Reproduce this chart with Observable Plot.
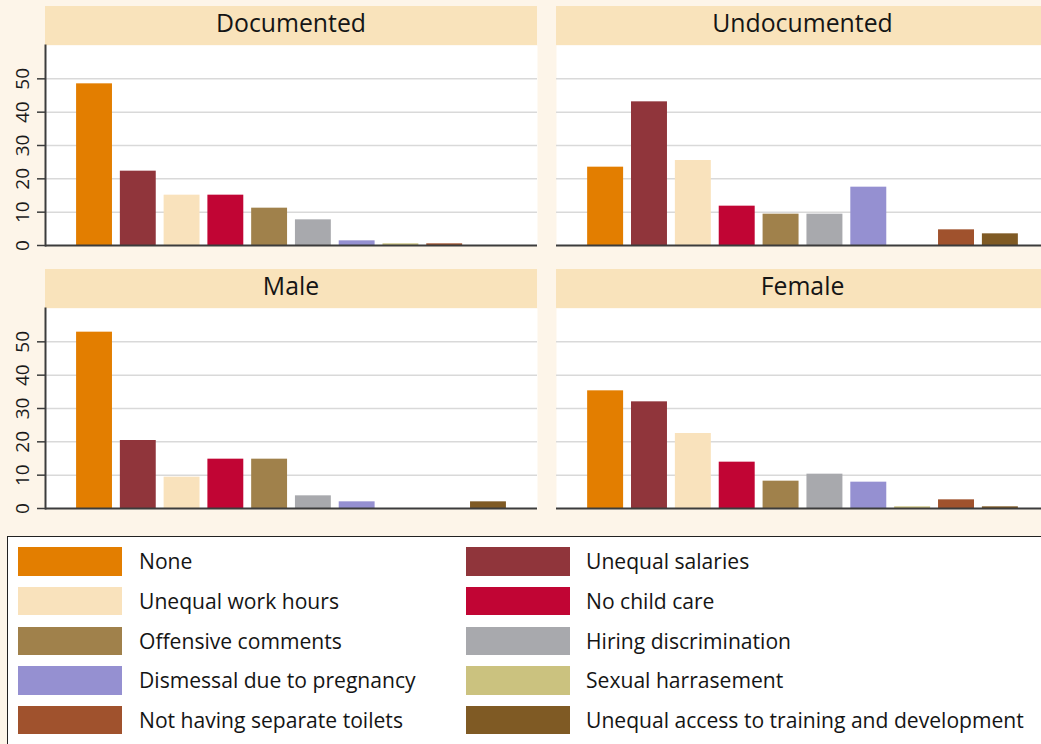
<!DOCTYPE html>
<html><head><meta charset="utf-8">
<script src="https://cdn.jsdelivr.net/npm/d3@7"></script>
<script src="https://cdn.jsdelivr.net/npm/@observablehq/plot@0.6"></script>
<style>
html,body{margin:0;padding:0;background:#FDF5E9;width:1041px;height:744px;overflow:hidden;font-family:"Open Sans",sans-serif;}
#root{position:relative;width:1041px;height:744px;overflow:hidden;}
.hdr{position:absolute;background:#F9E3BB;text-align:center;font-size:24.8px;color:#151515;}
.panel{position:absolute;}
.panel svg{max-width:none !important;}
#legend{position:absolute;left:7px;top:536px;width:1100px;height:300px;background:#fff;border:1.5px solid #222;box-sizing:border-box;}
.sw{position:absolute;width:104px;height:28.5px;}
.lt{position:absolute;font-size:21.1px;line-height:28.5px;color:#151515;white-space:nowrap;}
</style>
</head><body>
<div id="root"></div>
<script>
const categories = ["None","Unequal salaries","Unequal work hours","No child care","Offensive comments","Hiring discrimination","Dismessal due to pregnancy","Sexual harrasement","Not having separate toilets","Unequal access to training and development"];
const colors = ["#E37E00","#90353B","#F9E2BC","#C10534","#A0814B","#A8A9AD","#9590D1","#CBC27F","#A0522D","#7F5A24"];
const panelTitles = ["Documented","Undocumented","Male","Female"];
const documented   = [48.5, 22.3, 15.1, 15.1, 11.2, 7.7, 1.4, 0.5, 0.5, 0];
const undocumented = [23.5, 43.1, 25.5, 11.8, 9.4, 9.4, 17.5, 0, 4.7, 3.5];
const male         = [52.9, 20.4, 9.4, 14.8, 14.8, 3.8, 2.0, 0, 0, 2.0];
const female       = [35.3, 32.0, 22.5, 13.9, 8.2, 10.3, 7.9, 0.5, 2.6, 0.5];
const yTicks = [0,10,20,30,40,50];

const root = document.getElementById("root");
const series = [documented, undocumented, male, female];
const layout = [
  {svgLeft:0,   svgTop:35,  hx:45,  hy:6,   hh:39,   axis:true},
  {svgLeft:511, svgTop:35,  hx:556, hy:6,   hh:39,   axis:false},
  {svgLeft:0,   svgTop:298, hx:45,  hy:269, hh:39,   axis:true},
  {svgLeft:511, svgTop:298, hx:556, hy:269, hh:39,   axis:false}
];

series.forEach((vals, i) => {
  const L = layout[i];
  const W = i % 2 === 0 ? 537 : 538;
  const h = document.createElement("div");
  h.className = "hdr";
  h.style.left = L.hx + "px"; h.style.top = L.hy + "px";
  h.style.width = (i % 2 === 0 ? 492 : 493) + "px"; h.style.height = L.hh + "px";
  h.style.lineHeight = "33px";
  h.textContent = panelTitles[i];
  root.appendChild(h);

  const data = categories.map((c, k) => ({cat: c, value: vals[k]}));
  const marks = [
    Plot.frame({fill: "white", stroke: null}),
    Plot.gridY({ticks: [10,20,30,40,50], stroke: "#d9d9d9", strokeOpacity: 1, strokeWidth: 1.5}),
    Plot.barY(data, {x: "cat", y: "value", fill: "cat"}),
    Plot.ruleY([0], {stroke: "#3c3c3c", strokeWidth: 2})
  ];
  if (L.axis) {
    marks.push(Plot.frame({anchor: "left", stroke: "#3c3c3c", strokeWidth: 2}));
    marks.push(Plot.axisY({ticks: yTicks, tickSize: 8, tickRotate: -90, tickPadding: 9, fontSize: 19, stroke: "#3c3c3c", strokeWidth: 1.5, fill: "#1a1a1a", label: null}));
  }
  const chart = Plot.plot({
    width: W,
    height: 215,
    marginLeft: 45, marginRight: 0, marginTop: 10, marginBottom: 5,
    style: {background: "transparent", fontFamily: "Open Sans", overflow: "visible", maxWidth: "none"},
    x: {type: "band", domain: categories, paddingInner: 0.18, paddingOuter: 0.71, round: false, axis: null},
    y: {domain: [0, 60], axis: null},
    color: {domain: categories, range: colors},
    marks
  });
  const wrap = document.createElement("div");
  wrap.className = "panel";
  wrap.style.left = L.svgLeft + "px"; wrap.style.top = L.svgTop + "px";
  wrap.style.width = W + "px"; wrap.style.height = "215px";
  wrap.appendChild(chart);
  root.appendChild(wrap);
});

const legend = document.createElement("div");
legend.id = "legend";
root.appendChild(legend);
categories.forEach((c, k) => {
  const col = k % 2, row = Math.floor(k / 2);
  const top = 547.3 + row * 39.6;
  const sw = document.createElement("div");
  sw.className = "sw";
  sw.style.background = colors[k];
  sw.style.left = (col ? 466 : 18) + "px";
  sw.style.top = top + "px";
  root.appendChild(sw);
  const t = document.createElement("div");
  t.className = "lt";
  t.style.left = (col ? 586 : 139) + "px";
  t.style.top = top + "px";
  t.textContent = c;
  root.appendChild(t);
});
</script>
</body></html>
